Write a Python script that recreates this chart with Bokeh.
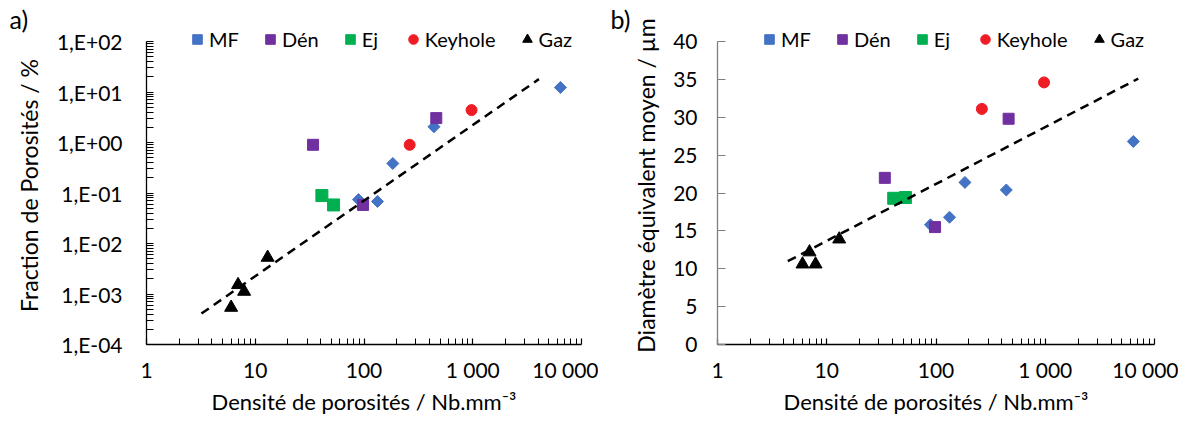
import math
from bokeh.plotting import figure
from bokeh.models import Range1d, FixedTicker, CustomJSTickFormatter, Legend, Title
from bokeh.layouts import row
from bokeh.embed import file_html
from bokeh.resources import INLINE

FONT = "Lato"

# ---- data ----
series_names = ["MF", "Dén", "Ej", "Keyhole", "Gaz"]

density_mf = [89, 133, 184, 440, 6400]
density_den = [34, 98, 462]
density_ej = [41, 52.5]
density_key = [263, 975]
density_gaz = [6.0, 6.95, 7.9, 13.0]

fraction_mf = [0.074, 0.068, 0.384, 2.05, 12.3]
fraction_den = [0.90, 0.058, 3.04]
fraction_ej = [0.089, 0.058]
fraction_key = [0.90, 4.38]
fraction_gaz = [0.00054, 0.00152, 0.00112, 0.00528]

diameter_mf = [15.8, 16.8, 21.4, 20.4, 26.8]
diameter_den = [22.0, 15.5, 29.8]
diameter_ej = [19.3, 19.4]
diameter_key = [31.1, 34.6]
diameter_gaz = [10.6, 12.2, 10.6, 13.9]

trend_a_x = [3.2, 4060]
trend_a_y = [4.1e-4, 18]
trend_b_x = [4.4, 7100]
trend_b_y = [11.0, 35.1]

x_tick_values = [1, 10, 100, 1000, 10000]
x_tick_labels = ["1", "10", "100", "1 000", "10 000"]
ya_tick_values = [1e-4, 1e-3, 1e-2, 1e-1, 1e0, 1e1, 1e2]
ya_tick_labels = ["1,E-04", "1,E-03", "1,E-02", "1,E-01", "1,E+00", "1,E+01", "1,E+02"]
yb_tick_values = [0, 5, 10, 15, 20, 25, 30, 35, 40]

x_label = "Densité de porosités / Nb.mm⁻³"
ya_label = "Fraction de Porosités / %"
yb_label = "Diamètre équivalent moyen / µm"

densities = [density_mf, density_den, density_ej, density_key, density_gaz]
fractions = [fraction_mf, fraction_den, fraction_ej, fraction_key, fraction_gaz]
diameters = [diameter_mf, diameter_den, diameter_ej, diameter_key, diameter_gaz]

styles = [
    dict(marker="square", color="#4472C4", size=8.5, angle=0.785398),
    dict(marker="square", color="#7030A0", size=11, angle=0),
    dict(marker="square", color="#00B050", size=12, angle=0),
    dict(marker="circle", color="#EE1C25", size=11, angle=0),
    dict(marker="triangle", color="#000000", size=13, angle=0),
]

AXIS_PX = 303      # pixel height of the drawn axis
EXTRA_PX = 15      # free space above the axis top for the legend
TOP = 26


def log_minor(lo_exp, hi_exp):
    return [m * 10.0 ** e for e in range(lo_exp, hi_exp) for m in range(2, 10)]


def make_panel(yvals, y_log, y_bounds, y_ticks, y_minor, y_labels, y_title,
               trend_x, trend_y, frame_w, left, right, legend_x, tag, tag_off,
               yaxis_color, ylab_standoff, ytitle_standoff):
    if y_log:
        lo, hi = math.log10(y_bounds[0]), math.log10(y_bounds[1])
        y_end = 10 ** (hi + EXTRA_PX * (hi - lo) / AXIS_PX)
    else:
        y_end = y_bounds[1] + EXTRA_PX * (y_bounds[1] - y_bounds[0]) / AXIS_PX
    p = figure(frame_width=frame_w, frame_height=AXIS_PX + EXTRA_PX,
               x_axis_type="log", y_axis_type="log" if y_log else "linear",
               x_range=Range1d(1, 10000), y_range=Range1d(y_bounds[0], y_end),
               output_backend="svg", toolbar_location=None,
               min_border_left=left, min_border_right=right,
               min_border_top=TOP, min_border_bottom=60)
    p.xgrid.visible = False
    p.ygrid.visible = False
    p.outline_line_color = None
    p.title = Title(text=tag, align="left", offset=tag_off, standoff=-14,
                    text_font=FONT, text_font_size="25px", text_font_style="normal",
                    text_color="black", vertical_align="bottom")

    renderers = []
    for xs, ys, st in zip(densities, yvals, styles):
        r = p.scatter(xs, ys, marker=st["marker"], size=st["size"], angle=st["angle"],
                      fill_color=st["color"], line_color=st["color"])
        renderers.append(r)

    p.line(trend_x, trend_y, line_color="black", line_width=2.5, line_dash="9 6")

    xa = p.xaxis[0]
    xa.ticker = FixedTicker(ticks=x_tick_values, minor_ticks=log_minor(0, 4))
    xa.formatter = CustomJSTickFormatter(args=dict(labels=x_tick_labels),
                                         code="return labels[Math.round(Math.log10(tick))]")
    xa.axis_label = x_label

    ya = p.yaxis[0]
    ya.ticker = FixedTicker(ticks=y_ticks, minor_ticks=y_minor)
    ya.bounds = y_bounds
    if y_labels is not None:
        ya.formatter = CustomJSTickFormatter(args=dict(labels=y_labels),
                                             code="return labels[Math.round(Math.log10(tick)) + 4]")
    ya.axis_label = y_title

    for ax in (xa, ya):
        ax.major_tick_out = 0
        ax.minor_tick_out = 0
        ax.major_label_text_font = FONT
        ax.major_label_text_font_size = "21px"
        ax.major_label_text_color = "black"
        ax.axis_label_text_font = FONT
        ax.axis_label_text_font_style = "normal"
        ax.axis_label_text_color = "black"
        ax.axis_line_width = 1.3
        ax.major_tick_line_width = 1.2
        ax.minor_tick_line_width = 1.0

    xa.axis_label_text_font_size = "22px"
    ya.axis_label_text_font_size = "23px"

    xa.major_tick_in = 6
    xa.minor_tick_in = 6
    xa.major_label_standoff = 12
    xa.axis_label_standoff = 3
    xa.axis_line_color = "black"

    ya.major_tick_in = 8 if not y_log else 7
    ya.minor_tick_in = 7
    ya.major_label_standoff = ylab_standoff
    ya.axis_label_standoff = ytitle_standoff
    ya.axis_line_color = yaxis_color
    ya.major_tick_line_color = yaxis_color

    legend = Legend(items=[(n, [r]) for n, r in zip(series_names, renderers)],
                    orientation="horizontal", location=(legend_x, 293),
                    glyph_width=24, glyph_height=24, label_height=24,
                    label_standoff=0, spacing=19, padding=0, margin=0,
                    background_fill_alpha=0, border_line_alpha=0,
                    label_text_font=FONT, label_text_font_size="20px",
                    label_text_color="black")
    p.add_layout(legend)
    return p


pa = make_panel(fractions, True, (1e-4, 1e2), ya_tick_values, log_minor(-4, 2),
                ya_tick_labels, ya_label, trend_a_x, trend_a_y,
                435, 146, 17, 39, "a)", -137, "black", 24, 11)
pb = make_panel(diameters, False, (0, 40), yb_tick_values, [], None, yb_label,
                trend_b_x, trend_b_y,
                437, 119, 24, 40, "b)", -107, "#808080", 20, 10)

layout = row(pa, pb)
open("out.html", "w").write(file_html(layout, INLINE))
